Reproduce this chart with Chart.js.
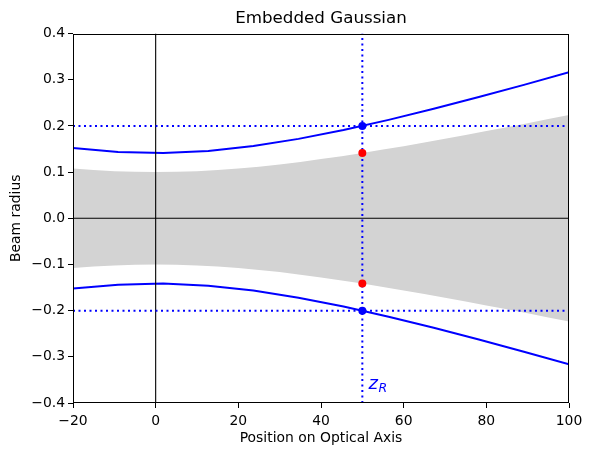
<!DOCTYPE html>
<html>
<head>
<meta charset="utf-8">
<script src="https://cdn.jsdelivr.net/npm/chart.js@4"></script>
<style>
  html, body { margin: 0; padding: 0; background: #fff; }
  canvas { display: block; }
</style>
</head>
<body>
<canvas id="beamChart" width="592" height="455"></canvas>
<script>
const beamZ = [-20, -9.09, 1.82, 12.73, 23.64, 34.55, 45.45, 56.36, 67.27, 78.18, 89.09, 100];
const beamUpper = [0.152, 0.1437, 0.1415, 0.1459, 0.1564, 0.1719, 0.1911, 0.2131, 0.2371, 0.2625, 0.2889, 0.3162];
const beamLower = [-0.152, -0.1437, -0.1415, -0.1459, -0.1564, -0.1719, -0.1911, -0.2131, -0.2371, -0.2625, -0.2889, -0.3162];

const greyZ = [-20, -15, -10, -5, 0, 5, 10, 15, 20, 25, 30, 35, 40, 45, 50, 55, 60, 65, 70, 75, 80, 85, 90, 95, 100];
const greyUpper = [0.1077, 0.1044, 0.102, 0.1005, 0.1, 0.1005, 0.102, 0.1044, 0.1077, 0.1118, 0.1166, 0.1221, 0.1281,
  0.1345, 0.1414, 0.1487, 0.1562, 0.164, 0.172, 0.1803, 0.1887, 0.1972, 0.2059, 0.2147, 0.2236];
const greyLower = [-0.1077, -0.1044, -0.102, -0.1005, -0.1, -0.1005, -0.102, -0.1044, -0.1077, -0.1118, -0.1166, -0.1221, -0.1281,
  -0.1345, -0.1414, -0.1487, -0.1562, -0.164, -0.172, -0.1803, -0.1887, -0.1972, -0.2059, -0.2147, -0.2236];

const zR = 50;
const beamAtZR = [0.2, -0.2];
const gaussAtZR = [0.1414, -0.1414];

const xTicks = [-20, 0, 20, 40, 60, 80, 100];
const yTicks = [-0.4, -0.3, -0.2, -0.1, 0.0, 0.1, 0.2, 0.3, 0.4];

const FONT = "'DejaVu Sans', sans-serif";
const pts = (xs, ys) => xs.map((x, i) => ({ x: x, y: ys[i] }));
const fmt = (v, d) => {
  if (Math.abs(v) < 1e-9) v = 0;
  const s = Math.abs(v).toFixed(d);
  return v < 0 ? '\u2212' + s : s;
};

// frame + z_R label
const extras = {
  id: 'extras',
  afterDraw(chart) {
    const { ctx, chartArea: a, scales } = chart;
    ctx.save();
    ctx.strokeStyle = '#000';
    ctx.lineWidth = 1;
    ctx.strokeRect(Math.round(a.left) + 0.5, Math.round(a.top) + 0.5,
      Math.round(a.right - a.left) - 1, Math.round(a.bottom - a.top) - 1);
    const px = scales.x.getPixelForValue(zR + 1.5);
    const py = scales.y.getPixelForValue(-0.37);
    ctx.fillStyle = 'blue';
    ctx.textBaseline = 'alphabetic';
    ctx.font = 'italic 18px ' + FONT;
    ctx.fillText('z', px, py);
    const w = ctx.measureText('z').width;
    ctx.font = 'italic 12.5px ' + FONT;
    ctx.fillText('R', px + w + 0.5, py + 3);
    ctx.restore();
  }
};

const ctx = document.getElementById('beamChart').getContext('2d');
new Chart(ctx, {
  type: 'scatter',
  data: {
    datasets: [
      { data: pts(greyZ, greyUpper), showLine: true, borderWidth: 0, pointRadius: 0,
        backgroundColor: '#d3d3d3', fill: '+1', order: 10 },
      { data: pts(greyZ, greyLower), showLine: true, borderWidth: 0, pointRadius: 0,
        backgroundColor: '#d3d3d3', fill: false, order: 10 },
      { data: pts(beamZ, beamUpper), showLine: true, borderColor: 'blue', borderWidth: 2,
        pointRadius: 0, order: 6 },
      { data: pts(beamZ, beamLower), showLine: true, borderColor: 'blue', borderWidth: 2,
        pointRadius: 0, order: 6 },
      { data: [{ x: -20, y: 0 }, { x: 100, y: 0 }], showLine: true, borderColor: '#000',
        borderWidth: 1.1, pointRadius: 0, order: 5 },
      { data: [{ x: 0, y: -0.4 }, { x: 0, y: 0.4 }], showLine: true, borderColor: '#000',
        borderWidth: 1.1, pointRadius: 0, order: 5 },
      { data: [{ x: -20, y: beamAtZR[0] }, { x: 100, y: beamAtZR[0] }], showLine: true,
        borderColor: 'blue', borderWidth: 2, borderDash: [2, 3.5], pointRadius: 0, order: 4 },
      { data: [{ x: -20, y: beamAtZR[1] }, { x: 100, y: beamAtZR[1] }], showLine: true,
        borderColor: 'blue', borderWidth: 2, borderDash: [2, 3.5], pointRadius: 0, order: 4 },
      { data: [{ x: zR, y: -0.4 }, { x: zR, y: 0.4 }], showLine: true,
        borderColor: 'blue', borderWidth: 2, borderDash: [2, 3.5], pointRadius: 0, order: 4 },
      { data: beamAtZR.map(y => ({ x: zR, y: y })), showLine: false, pointRadius: 4,
        pointBackgroundColor: 'blue', pointBorderColor: 'blue', pointBorderWidth: 0, order: 1 },
      { data: gaussAtZR.map(y => ({ x: zR, y: y })), showLine: false, pointRadius: 4,
        pointBackgroundColor: 'red', pointBorderColor: 'red', pointBorderWidth: 0, order: 1 }
    ]
  },
  options: {
    responsive: false,
    devicePixelRatio: 1,
    animation: false,
    layout: { padding: { left: 0, right: 23, top: 0, bottom: 0 } },
    plugins: {
      legend: { display: false },
      tooltip: { enabled: false },
      title: {
        display: true,
        fullSize: false,
        text: 'Embedded Gaussian',
        color: '#000',
        font: { family: FONT, size: 16.7, weight: 'normal' },
        padding: { top: 8.5, bottom: 5 }
      }
    },
    scales: {
      x: {
        type: 'linear',
        min: -20, max: 100,
        afterBuildTicks: s => { s.ticks = xTicks.map(v => ({ value: v })); },
        afterFit: s => { s.height = 52; },
        ticks: { color: '#000', font: { family: FONT, size: 13.9 }, padding: 5,
          maxRotation: 0, callback: v => fmt(v, 0) },
        grid: { drawOnChartArea: false, color: '#000', tickLength: 5, tickWidth: 1 },
        border: { display: false },
        title: { display: true, text: 'Position on Optical Axis', color: '#000',
          font: { family: FONT, size: 13.9 }, padding: { top: 2, bottom: 8 } }
      },
      y: {
        type: 'linear',
        min: -0.4, max: 0.4,
        afterBuildTicks: s => { s.ticks = yTicks.map(v => ({ value: v })); },
        afterFit: s => { s.width = 73; },
        ticks: { color: '#000', font: { family: FONT, size: 13.9 }, padding: 3,
          callback: v => fmt(v, 1) },
        grid: { drawOnChartArea: false, color: '#000', tickLength: 5, tickWidth: 1 },
        border: { display: false },
        title: { display: true, text: 'Beam radius', color: '#000',
          font: { family: FONT, size: 13.9 }, padding: { top: 8, bottom: 4 } }
      }
    }
  },
  plugins: [extras]
});
</script>
</body>
</html>
